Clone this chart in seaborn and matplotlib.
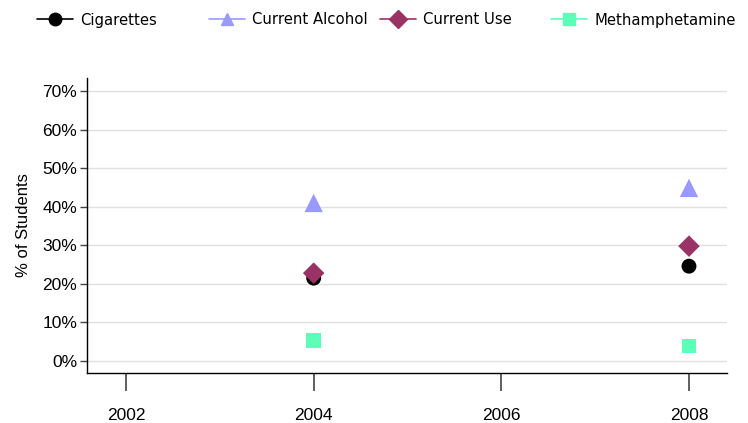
import pandas as pd
import numpy as np
import seaborn as sns
import matplotlib.pyplot as plt
from matplotlib.lines import Line2D
from matplotlib.ticker import PercentFormatter

# data
years = [2004, 2008]
series = ['Cigarettes', 'Current Alcohol', 'Current Use', 'Methamphetamine']
cigarettes = [21.5, 24.6]
alcohol = [41.0, 44.9]
current_use = [22.8, 29.8]
meth = [5.4, 3.9]

colors = ['#000000', '#9999FF', '#993366', '#5CFFB8']
markers = ['o', '^', 'D', 's']
sizes = [115, 175, 120, 115]

df = pd.DataFrame({
    'year': years * 4,
    'series': np.repeat(series, len(years)),
    'value': cigarettes + alcohol + current_use + meth,
})

sns.set_style('white')
plt.rcParams['font.family'] = ['Liberation Sans', 'DejaVu Sans']
plt.rcParams['text.color'] = 'black'
plt.rcParams['axes.labelcolor'] = 'black'
plt.rcParams['xtick.color'] = 'black'
plt.rcParams['ytick.color'] = 'black'

fig = plt.figure(figsize=(7.48, 4.23), dpi=100)
ax = fig.add_axes([0.1163, 0.1182, 0.8556, 0.6974])

for name, c, m, s in zip(series, colors, markers, sizes):
    sub = df[df['series'] == name]
    sns.scatterplot(data=sub, x='year', y='value', color=c, marker=m, s=s,
                    edgecolor='none', ax=ax, zorder=3)

ax.set_xlim(2001.584, 2008.405)
ax.set_ylim(-3.1, 73.4)
ax.set_xticks([2002, 2004, 2006, 2008])
ax.set_yticks(range(0, 80, 10))
ax.yaxis.set_major_formatter(PercentFormatter(decimals=0))
ax.grid(axis='y', color='#e0e0e0', linewidth=1)
ax.set_axisbelow(True)
ax.set_xlabel('')
ax.set_ylabel('% of Students', fontsize=12, labelpad=8)
for side in ['top', 'right']:
    ax.spines[side].set_visible(False)
for side in ['left', 'bottom']:
    ax.spines[side].set_color('black')
    ax.spines[side].set_linewidth(1)
ax.tick_params(axis='x', direction='out', length=13, width=1.2, color='#444444',
               labelcolor='black', labelsize=12.5, pad=12, bottom=True)
ax.tick_params(axis='y', direction='out', length=5, width=1, color='#444444',
               labelcolor='black', labelsize=12.5, pad=2, left=True)

# legend entries sit at fixed spacing across the top
legend_x = [37, 209, 380, 551]
for name, c, m, lx in zip(series, colors, markers, legend_x):
    h = Line2D([0], [0], color=c, marker=m, markersize=9, lw=1.2,
               markeredgecolor=c)
    leg = fig.legend([h], [name], loc='center left',
                     bbox_to_anchor=(lx / 748, 1 - 20 / 423),
                     frameon=False, borderpad=0, borderaxespad=0,
                     handlelength=2.4, handletextpad=0.5, labelcolor='black',
                     prop={'family': 'DejaVu Sans', 'size': 10.7})

fig.savefig('out.png', dpi=100)
